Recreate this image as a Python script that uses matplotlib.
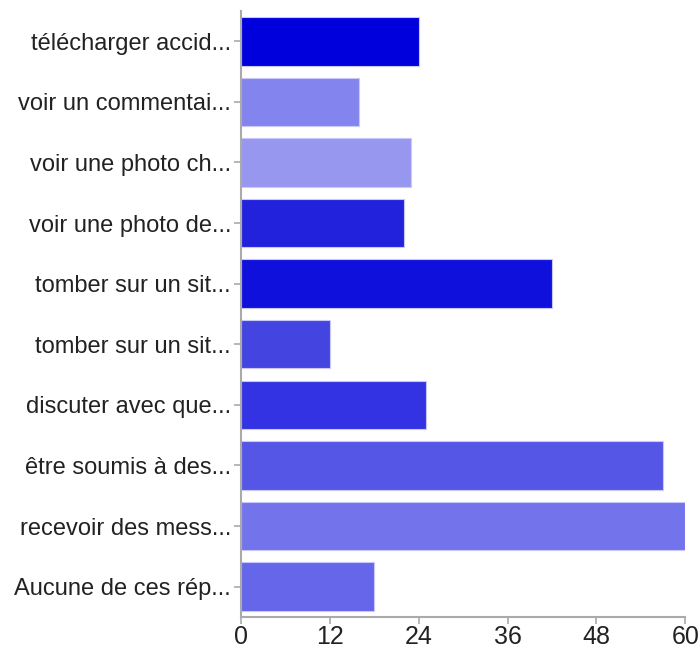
import matplotlib.pyplot as plt

plt.rcParams['font.family'] = ['Liberation Sans', 'DejaVu Sans']

# categories, top to bottom
labels = [
    "télécharger accid...",
    "voir un commentai...",
    "voir une photo ch...",
    "voir une photo de...",
    "tomber sur un sit...",
    "tomber sur un sit...",
    "discuter avec que...",
    "être soumis à des...",
    "recevoir des mess...",
    "Aucune de ces rép...",
]
counts = [24, 16, 23, 22, 42, 12, 25, 57, 60, 18]
colors = ["#0000dd", "#8484ee", "#9797f0", "#2222dd", "#1010dd",
          "#4444e0", "#3333e3", "#5555e6", "#7373ec", "#6666ea"]
x_ticks = [0, 12, 24, 36, 48, 60]

fig = plt.figure(figsize=(7, 6.48), dpi=100)
ax = fig.add_axes([0.344, 0.048, 0.635, 0.935])

pos = list(range(len(labels)))
ax.barh(pos, counts, height=0.8, color=colors, edgecolor="#c8c8fa", linewidth=0.8)

ax.set_ylim(len(labels) - 0.5, -0.5)
ax.set_xlim(0, 60)
ax.set_yticks(pos)
ax.set_yticklabels(labels, fontsize=17, color="#222222")
ax.set_xticks(x_ticks)
ax.set_xticklabels([str(t) for t in x_ticks], fontsize=18, color="#222222")

for side in ("top", "right"):
    ax.spines[side].set_visible(False)
for side in ("left", "bottom"):
    ax.spines[side].set_color("#aaaaaa")
    ax.spines[side].set_linewidth(1.5)
ax.tick_params(axis="both", color="#aaaaaa", length=5, width=1.2)
ax.tick_params(axis="y", pad=2)
ax.tick_params(axis="x", pad=1)

fig.savefig("out.png", dpi=100)
